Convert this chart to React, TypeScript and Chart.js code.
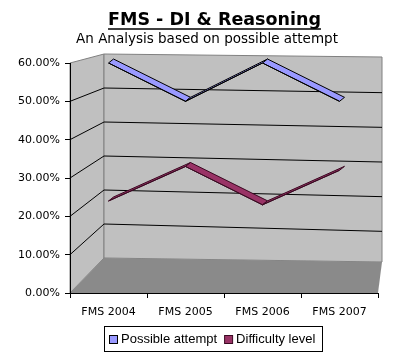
import React, { useEffect, useRef } from "react";
import { Chart, registerables } from "chart.js";

Chart.register(...registerables);

const TITLE = "FMS - DI & Reasoning";
const SUBTITLE = "An Analysis based on possible attempt";
const categories = ["FMS 2004", "FMS 2005", "FMS 2006", "FMS 2007"];
const seriesNames = ["Possible attempt", "Difficulty level"];
const possibleAttempt = [60, 50, 60, 50];
const difficultyLevel = [24, 33, 23, 32];
const yMin = 0;
const yMax = 60;
const yStep = 10;

const seriesColors = ["#9999FF", "#993366"];
const seriesEdges = ["#000000", "#3a0a22"];

const FONT = '"DejaVu Sans", Verdana, sans-serif';
const LEGEND_FONT = '13px "Liberation Sans", Arial, sans-serif';

const wallsPlugin = {
  id: "walls",
  beforeDraw(chart: any) {
    const { ctx, chartArea: a, scales } = chart;
    const y = scales.y;
    const depthX = 34;
    const backRight = a.right + 4;
    const tilt = 4;
    const k = 204 / 230;
    const backBottom = a.bottom - 35;
    const yF = (v: number) => y.getPixelForValue(v);
    const yB = (v: number) => backBottom - (a.bottom - yF(v)) * k;
    const xF = a.left;
    const xB = a.left + depthX;
    ctx.save();
    ctx.fillStyle = "#c0c0c0";
    ctx.strokeStyle = "#808080";
    ctx.lineWidth = 1;
    ctx.beginPath();
    ctx.moveTo(xF, yF(yMax));
    ctx.lineTo(xB, yB(yMax));
    ctx.lineTo(xB, yB(yMin));
    ctx.lineTo(xF, yF(yMin));
    ctx.closePath();
    ctx.fill();
    ctx.stroke();
    ctx.beginPath();
    ctx.moveTo(xB, yB(yMax));
    ctx.lineTo(backRight, yB(yMax) + tilt - 1);
    ctx.lineTo(backRight, yB(yMin) + tilt);
    ctx.lineTo(xB, yB(yMin));
    ctx.closePath();
    ctx.fill();
    ctx.stroke();
    ctx.fillStyle = "#8a8a8a";
    ctx.beginPath();
    ctx.moveTo(xF, yF(yMin));
    ctx.lineTo(xB, yB(yMin));
    ctx.lineTo(backRight, yB(yMin) + tilt);
    ctx.lineTo(a.right, yF(yMin));
    ctx.closePath();
    ctx.fill();
    ctx.strokeStyle = "#000000";
    for (let v = yMin + yStep; v < yMax; v += yStep) {
      const t = tilt + (yMax - v) / yMax * 4;
      ctx.beginPath();
      ctx.moveTo(xF, yF(v));
      ctx.lineTo(xB, yB(v));
      ctx.lineTo(backRight, yB(v) + t);
      ctx.stroke();
    }
    ctx.restore();
  },
  beforeDatasetsDraw(chart: any) {
    const { ctx } = chart;
    const dx = 5;
    const dy = -4;
    ctx.save();
    chart.data.datasets.forEach((ds: any, di: number) => {
      const meta = chart.getDatasetMeta(di);
      const pts = meta.data;
      for (let i = 0; i < pts.length - 1; i++) {
        const p = pts[i];
        const q = pts[i + 1];
        ctx.beginPath();
        ctx.moveTo(p.x, p.y);
        ctx.lineTo(q.x, q.y);
        ctx.lineTo(q.x + dx, q.y + dy);
        ctx.lineTo(p.x + dx, p.y + dy);
        ctx.closePath();
        ctx.fillStyle = seriesColors[di];
        ctx.fill();
        ctx.strokeStyle = seriesEdges[di];
        ctx.lineWidth = 1;
        ctx.stroke();
      }
    });
    ctx.restore();
  },
  afterDraw(chart: any) {
    const { ctx } = chart;
    ctx.save();
    ctx.fillStyle = "#000";
    ctx.textAlign = "center";
    ctx.textBaseline = "alphabetic";
    ctx.font = `bold 17.5px ${FONT}`;
    const tx = 214.5;
    ctx.fillText(TITLE, tx, 25);
    const w = ctx.measureText(TITLE).width;
    ctx.strokeStyle = "#000";
    ctx.lineWidth = 1.5;
    ctx.beginPath();
    ctx.moveTo(tx - w / 2, 29);
    ctx.lineTo(tx + w / 2, 29);
    ctx.stroke();
    ctx.font = `13.5px ${FONT}`;
    ctx.fillText(SUBTITLE, 207, 43);

    // legend
    ctx.font = LEGEND_FONT;
    ctx.textAlign = "left";
    ctx.textBaseline = "middle";
    const box = 8, gap = 4, itemGap = 7;
    const widths = seriesNames.map((n) => ctx.measureText(n).width);
    const total = widths.reduce((s, tw) => s + box + gap + tw, 0) + itemGap * (seriesNames.length - 1);
    const cx = 212;
    const cy = 339;
    let x = Math.round(cx - total / 2);
    const left = x - 5;
    seriesNames.forEach((n, i) => {
      ctx.fillStyle = seriesColors[i];
      ctx.fillRect(x + 0.5, cy - 4 + 0.5, box, box);
      ctx.strokeStyle = seriesEdges[i];
      ctx.lineWidth = 1;
      ctx.strokeRect(x + 0.5, cy - 4 + 0.5, box, box);
      ctx.fillStyle = "#000";
      ctx.fillText(n, x + box + gap, cy);
      x += box + gap + widths[i] + itemGap;
    });
    const right = x - itemGap + 7;
    ctx.strokeStyle = "#000";
    ctx.strokeRect(left + 0.5, 326.5, Math.round(right - left), 25);
    ctx.restore();
  },
};

export default function App() {
  const ref = useRef<HTMLCanvasElement | null>(null);
  useEffect(() => {
    document.body.style.margin = "0";
    const canvas = ref.current;
    if (!canvas) return;
    const chart = new Chart(canvas, {
      type: "line",
      data: {
        labels: categories,
        datasets: [
          {
            label: seriesNames[0],
            data: possibleAttempt,
            borderColor: seriesEdges[0],
            backgroundColor: seriesColors[0],
            borderWidth: 1,
            pointRadius: 0,
            fill: false,
            tension: 0,
          },
          {
            label: seriesNames[1],
            data: difficultyLevel,
            borderColor: seriesEdges[1],
            backgroundColor: seriesColors[1],
            borderWidth: 1,
            pointRadius: 0,
            fill: false,
            tension: 0,
          },
        ],
      },
      options: {
        responsive: false,
        animation: false,
        layout: { padding: { top: 63, left: 0, right: 22, bottom: 33 } },
        plugins: {
          title: { display: false },
          tooltip: { enabled: false },
          legend: { display: false },
        },
        scales: {
          x: {
            offset: true,
            grid: { display: true, drawOnChartArea: false, tickLength: 5, color: "#000", offset: true },
            border: { display: true, color: "#000" },
            ticks: { color: "#000", padding: 8, maxRotation: 0, font: { family: FONT, size: 11 } },
            afterFit: (s: any) => { s.height = 30; },
          },
          y: {
            min: yMin,
            max: yMax,
            grid: { display: true, drawOnChartArea: false, tickLength: 5, color: "#000" },
            border: { display: true, color: "#000" },
            ticks: {
              stepSize: yStep,
              color: "#000",
              padding: 5,
              font: { family: FONT, size: 11 },
              callback: (v: any) => Number(v).toFixed(2) + "%",
            },
            afterFit: (s: any) => { s.width = 70; },
          },
        },
      },
      plugins: [wallsPlugin],
    });
    return () => chart.destroy();
  }, []);
  return (
    <div style={{ width: 400, height: 356, background: "#fff" }}>
      <canvas ref={ref} width={400} height={356} style={{ display: "block" }} />
    </div>
  );
}
